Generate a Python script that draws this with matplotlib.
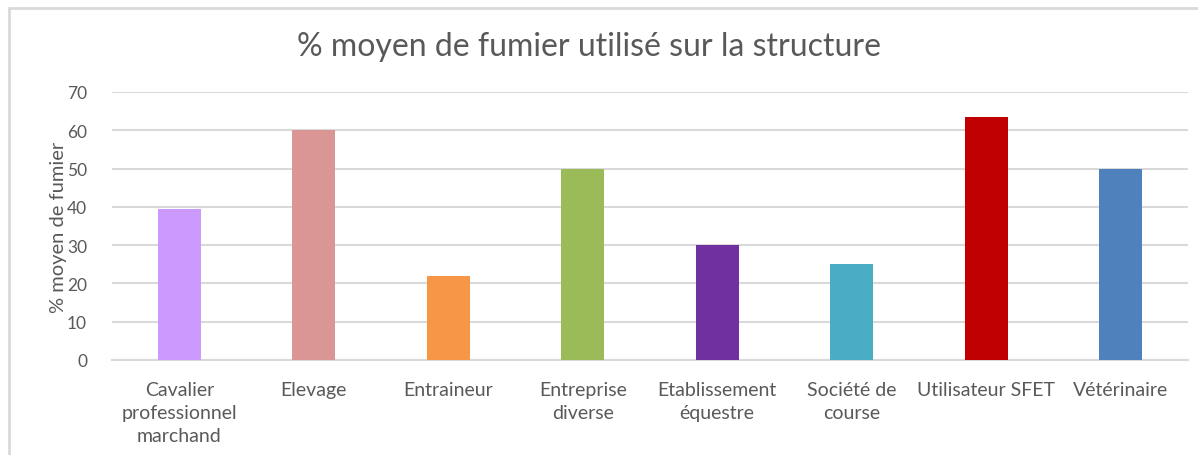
import matplotlib.pyplot as plt
from matplotlib.patches import Rectangle

categories = ["Cavalier\nprofessionnel\nmarchand", "Elevage", "Entraineur",
              "Entreprise\ndiverse", "Etablissement\néquestre", "Société de\ncourse",
              "Utilisateur SFET", "Vétérinaire"]
values = [39.5, 60, 22, 50, 30, 25, 63.5, 50]
colors = ["#CC99FF", "#D99694", "#F79646", "#9BBB59", "#7030A0", "#4BACC6",
          "#C00000", "#4F81BD"]
yticks = [0, 10, 20, 30, 40, 50, 60, 70]

plt.rcParams['font.family'] = ['Lato', 'DejaVu Sans']

W, H = 1198, 456
fig = plt.figure(figsize=(W / 100, H / 100), dpi=100)
ax = fig.add_axes([112 / W, 1 - 361 / H, (1188 - 112) / W, (361 - 93) / H])

# chart frame (bottom cut off in the screenshot)
fig.patches.append(Rectangle((9 / W, -0.1), 1.2, 1.1 - 9 / H, transform=fig.transFigure,
                             fill=False, edgecolor="#D9D9D9", linewidth=2))

x = range(len(categories))
ax.bar(x, values, width=0.32, color=colors, zorder=3)
ax.set_xlim(-0.5, len(categories) - 0.5)
ax.set_ylim(0, 70)
ax.set_yticks(yticks)
ax.set_xticks(list(x))
ax.set_xticklabels(categories, fontsize=14, color="#595959", linespacing=1.45, va="top")
ax.tick_params(axis="y", labelsize=12.5, labelcolor="#595959", length=0, pad=18)
ax.tick_params(axis="x", length=0, pad=15)
ax.grid(axis="y", color="#D9D9D9", linewidth=1.5, zorder=0)
for s in ["top", "right", "left"]:
    ax.spines[s].set_visible(False)
ax.spines["bottom"].set_color("#D9D9D9")
ax.spines["bottom"].set_linewidth(1.5)

ax.set_ylabel("% moyen de fumier", fontsize=14.5, color="#595959", labelpad=0)
fig.text(589 / W, 1 - 47 / H, "% moyen de fumier utilisé sur la structure",
         fontsize=23, color="#595959", ha="center", va="center")

fig.savefig("out.png", dpi=100)
